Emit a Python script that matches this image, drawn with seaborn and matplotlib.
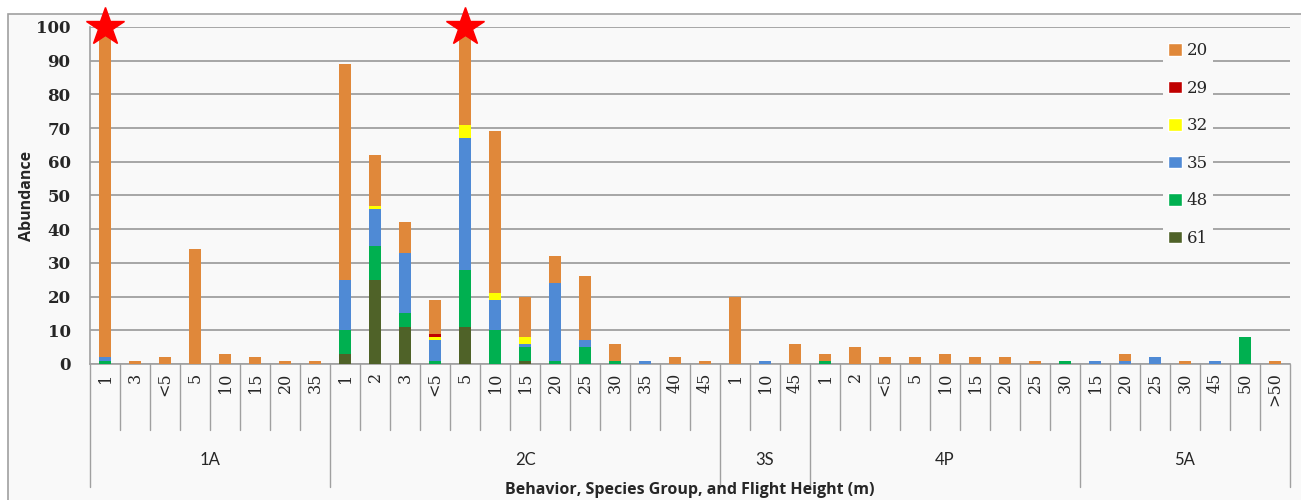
import numpy as np
import pandas as pd
import matplotlib
matplotlib.use('Agg')
import matplotlib.pyplot as plt
from matplotlib.patches import Rectangle, Patch
import matplotlib.transforms as mtransforms
import seaborn as sns

# categories: group + flight height
groups = ['1A'] * 8 + ['2C'] * 13 + ['3S'] * 3 + ['4P'] * 9 + ['5A'] * 7
heights = ['1', '3', '<5', '5', '10', '15', '20', '35',
           '1', '2', '3', '<5', '5', '10', '15', '20', '25', '30', '35', '40', '45',
           '1', '10', '45',
           '1', '2', '<5', '5', '10', '15', '20', '25', '30',
           '15', '20', '25', '30', '45', '50', '>50']

# series values (bottom of stack is 61, top is 20)
s20 = [98, 1, 2, 34, 3, 2, 1, 1,
       64, 15, 9, 10, 29, 48, 12, 8, 19, 5, 0, 2, 1,
       20, 0, 6,
       2, 5, 2, 2, 3, 2, 2, 1, 0,
       0, 2, 0, 1, 0, 0, 1]
s29 = [0, 0, 0, 0, 0, 0, 0, 0,
       0, 0, 0, 1, 0, 0, 0, 0, 0, 0, 0, 0, 0,
       0, 0, 0,
       0, 0, 0, 0, 0, 0, 0, 0, 0,
       0, 0, 0, 0, 0, 0, 0]
s32 = [0, 0, 0, 0, 0, 0, 0, 0,
       0, 1, 0, 1, 4, 2, 2, 0, 0, 0, 0, 0, 0,
       0, 0, 0,
       0, 0, 0, 0, 0, 0, 0, 0, 0,
       0, 0, 0, 0, 0, 0, 0]
s35 = [1, 0, 0, 0, 0, 0, 0, 0,
       15, 11, 18, 6, 39, 9, 1, 23, 2, 0, 1, 0, 0,
       0, 1, 0,
       0, 0, 0, 0, 0, 0, 0, 0, 0,
       1, 1, 2, 0, 1, 0, 0]
s48 = [1, 0, 0, 0, 0, 0, 0, 0,
       7, 10, 4, 1, 17, 10, 4, 1, 5, 1, 0, 0, 0,
       0, 0, 0,
       1, 0, 0, 0, 0, 0, 0, 0, 1,
       0, 0, 0, 0, 0, 8, 0]
s61 = [0, 0, 0, 0, 0, 0, 0, 0,
       3, 25, 11, 0, 11, 0, 1, 0, 0, 0, 0, 0, 0,
       0, 0, 0,
       0, 0, 0, 0, 0, 0, 0, 0, 0,
       0, 0, 0, 0, 0, 0, 0]

series_names = ['20', '29', '32', '35', '48', '61']
series_vals = [s20, s29, s32, s35, s48, s61]
colors = ['#E0883A', '#C00000', '#FFFF00', '#4F8AD5', '#00B050', '#4F6228']
starred = [0, 12]

rows = []
for name, vals in zip(series_names, series_vals):
    for i, v in enumerate(vals):
        rows.append({'pos': i, 'series': name, 'value': v})
df = pd.DataFrame(rows)

sns.set_style('white')
bg = '#f9f9f9'
fig = plt.figure(figsize=(13.01, 5), dpi=100)
fig.patch.set_facecolor('white')
fig.patches.append(Rectangle((8 / 1301, -0.1), 1.2, 1 - 14 / 500 + 0.1,
                             transform=fig.transFigure, facecolor=bg,
                             edgecolor='#a0a0a0', lw=1.2, zorder=-10))

ax = fig.add_axes([90 / 1301, 1 - 364 / 500, 1200 / 1301, 337 / 500])
ax.set_facecolor('none')

sns.histplot(data=df, x='pos', weights='value', hue='series',
             hue_order=series_names, palette=colors, multiple='stack',
             discrete=True, shrink=0.4, alpha=1, linewidth=0,
             legend=False, ax=ax, zorder=3)

ax.set_xlim(-0.5, len(heights) - 0.5)
ax.set_ylim(0, 100)
ax.set_yticks(range(0, 101, 10))
ax.set_axisbelow(True)
ax.yaxis.grid(True, color='#a6a6a6', lw=1.4)
ax.xaxis.grid(False)
for s in ['top', 'right']:
    ax.spines[s].set_visible(False)
for s in ['left', 'bottom']:
    ax.spines[s].set_color('#a0a0a0')
    ax.spines[s].set_linewidth(1.2)

ax.tick_params(axis='y', length=6, color='#a0a0a0', width=1.2, pad=8)
ax.set_yticklabels([str(v) for v in range(0, 101, 10)],
                   fontfamily='DejaVu Serif', fontweight='bold', fontsize=12)
ax.set_xticks(range(len(heights)))
ax.set_xticklabels(heights, rotation=90, fontfamily='DejaVu Serif', fontsize=11.5)
ax.tick_params(axis='x', length=0, pad=6)
ax.set_xlabel('')
ax.set_ylabel('Abundance', fontfamily='Open Sans', fontweight='bold',
              fontsize=11.5, labelpad=1)

# separators under the axis
trans = mtransforms.blended_transform_factory(ax.transData, ax.transAxes)
tick_bottom = -(430 - 364) / 337
group_bottom = -(487 - 364) / 337
bounds = [0]
for i in range(1, len(groups)):
    if groups[i] != groups[i - 1]:
        bounds.append(i)
bounds.append(len(groups))
for i in range(len(heights) + 1):
    yb = group_bottom if i in bounds else tick_bottom
    ax.plot([i - 0.5, i - 0.5], [0, yb], color='#a0a0a0', lw=1.0,
            transform=trans, clip_on=False)
for a, b in zip(bounds[:-1], bounds[1:]):
    ax.text((a + b - 1) / 2, -(460 - 364) / 337, groups[a], transform=trans,
            ha='center', va='center', fontfamily='Lato', fontsize=12)

fig.text(690 / 1301, 1 - 490 / 500, 'Behavior, Species Group, and Flight Height (m)',
         ha='center', va='center', fontfamily='Open Sans', fontweight='bold',
         fontsize=11.5)

# stars on the tallest bars
ax.plot(starred, [100] * len(starred), linestyle='none', marker='*',
        markersize=29, color='#FF0000', clip_on=False, zorder=5)

handles = [Patch(facecolor=c, label=n) for n, c in zip(series_names, colors)]
ax.legend(handles=handles, loc='upper left',
          bbox_to_anchor=(1155 / 1301, 1 - 29 / 500),
          bbox_transform=fig.transFigure, frameon=True, facecolor=bg,
          edgecolor='none', framealpha=1, handlelength=0.8, handleheight=0.8,
          prop={'family': 'DejaVu Serif', 'size': 12}, labelspacing=1.23,
          handletextpad=0.3, borderpad=0.3)

fig.savefig('out.png', dpi=100)
